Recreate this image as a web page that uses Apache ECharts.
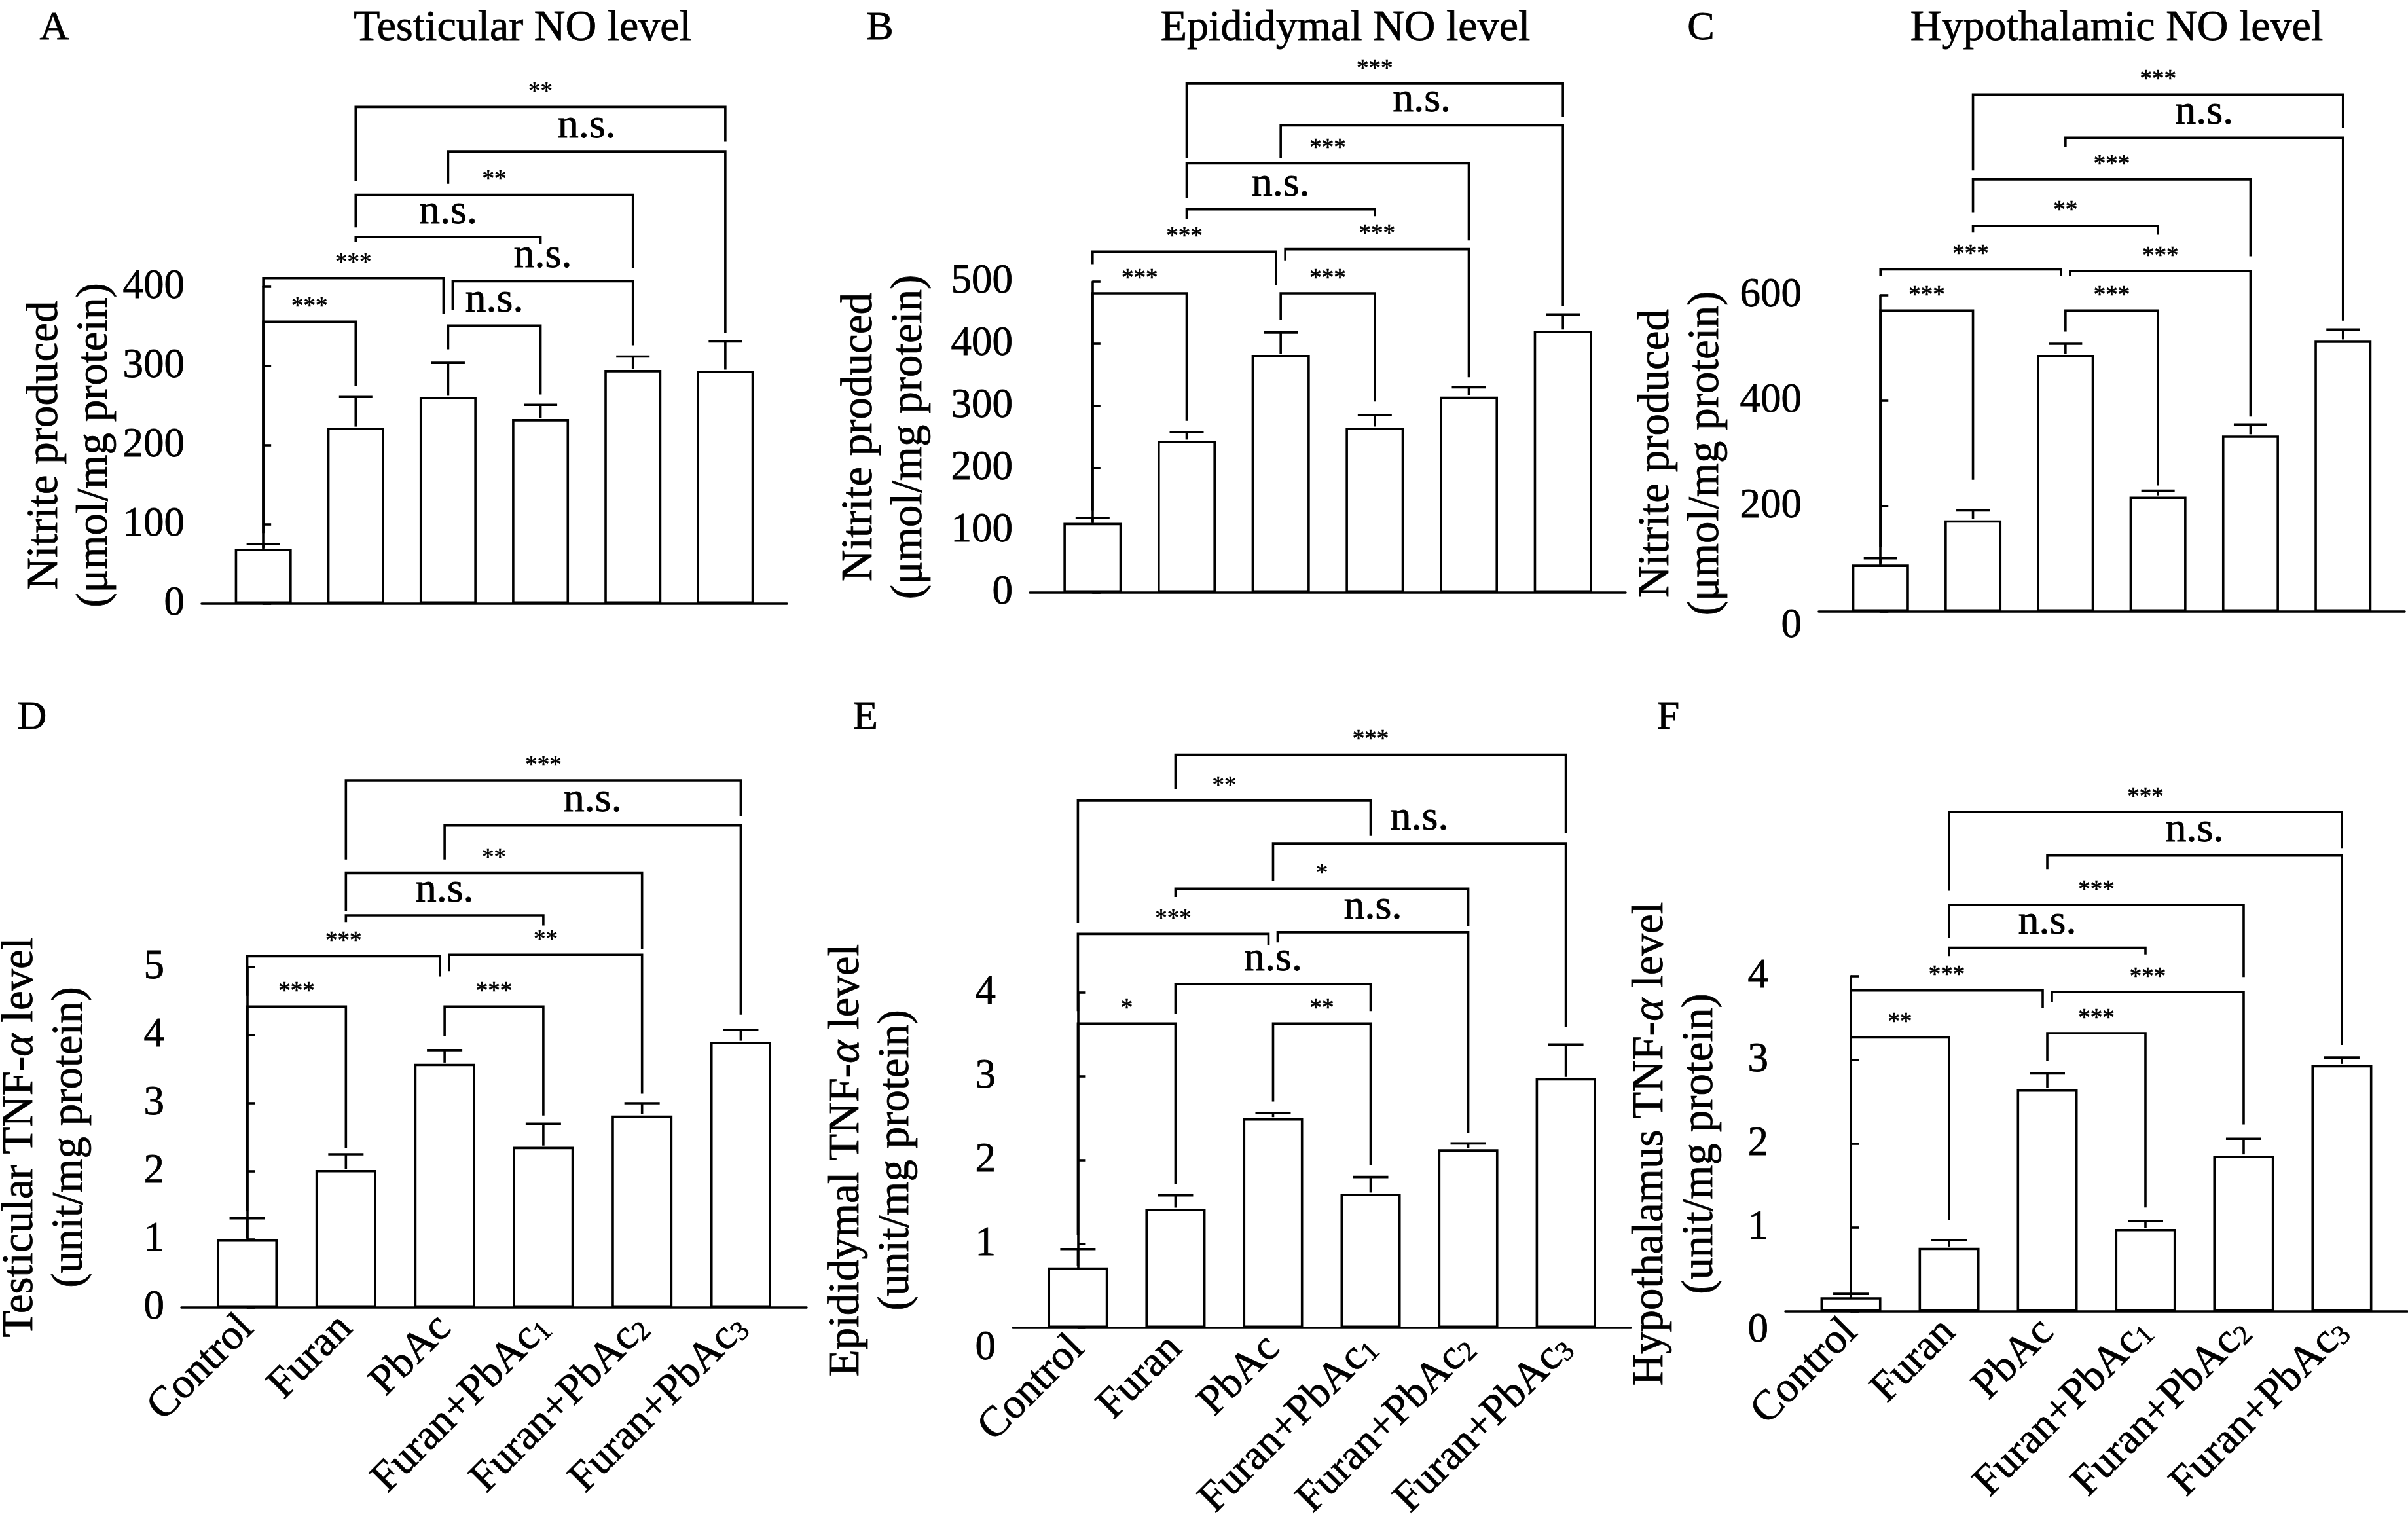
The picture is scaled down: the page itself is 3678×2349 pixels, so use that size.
<!DOCTYPE html>
<html><head><meta charset="utf-8">
<script src="https://cdn.jsdelivr.net/npm/echarts@6/dist/echarts.min.js"></script>
<style>html,body{margin:0;padding:0;background:#fff}#c{width:3678px;height:2349px}</style>
</head><body><div id="c"></div><script>
// ---------------- DATA ----------------
const categories = ['Control', 'Furan', 'PbAc', 'Furan+PbAc₁', 'Furan+PbAc₂', 'Furan+PbAc₃'];

// A: Testicular NO level (nitrite, µmol/mg protein)
const testNO_ticks = [0, 100, 200, 300, 400];
const testNO_mean  = [69, 222, 261, 233, 295, 294];
const testNO_upper = [75, 261, 304, 251, 312, 331];
// [group i, group j, bracket level, left drop end, right drop end]
const testNO_brackets = [[0,1,356,89,275],[0,2,411,400,366],[2,3,351,321,264],[2,4,407,371,326],[1,3,463,457,454],[1,4,516,475,424],[2,5,571,530,342],[1,5,627,533,583]];
const testNO_sig = ['***','***','n.s.','n.s.','n.s.','**','n.s.','**'];

// B: Epididymal NO level
const epiNO_ticks = [0, 100, 200, 300, 400, 500];
const epiNO_mean  = [112, 244, 382, 265, 315, 421];
const epiNO_upper = [120, 258, 418, 285, 330, 447];
const epiNO_brackets = [[0,1,481,132,276],[2,3,481,438,307],[0,2,548,528,494],[2,4,552,534,346],[1,3,616,601,605],[1,4,690,634,566],[2,5,751,699,461],[1,5,818,699,765]];
const epiNO_sig = ['***','***','***','***','n.s.','***','n.s.','***'];

// C: Hypothalamic NO level
const hypNO_ticks = [0, 200, 400, 600];
const hypNO_mean  = [89, 173, 487, 218, 334, 514];
const hypNO_upper = [101, 192, 508, 229, 355, 535];
const hypNO_brackets = [[0,1,571,123,250],[2,3,571,531,239],[0,2,649,636,636],[2,4,646,636,370],[1,3,732,719,715],[1,4,820,757,674],[2,5,899,882,552],[1,5,981,837,917]];
const hypNO_sig = ['***','***','***','***','**','***','n.s.','***'];

// D: Testicular TNF-α level (unit/mg protein)
const testTNF_ticks = [0, 1, 2, 3, 4, 5];
const testTNF_mean  = [1.00, 2.02, 3.58, 2.36, 2.82, 3.90];
const testTNF_upper = [1.31, 2.25, 3.78, 2.70, 3.00, 4.08];
const testTNF_brackets = [[0,1,4.42,1.42,2.34],[2,3,4.42,3.98,2.82],[0,2,5.16,4.58,4.86],[2,4,5.18,4.94,3.14],[1,3,5.76,5.66,5.61],[1,4,6.38,5.82,5.26],[2,5,7.08,6.58,4.30],[1,5,7.74,6.58,7.22]];
const testTNF_sig = ['***','***','***','**','n.s.','**','n.s.','***'];

// E: Epididymal TNF-α level
const epiTNF_ticks = [0, 1, 2, 3, 4];
const epiTNF_mean  = [0.72, 1.42, 2.50, 1.60, 2.13, 2.98];
const epiTNF_upper = [0.94, 1.58, 2.56, 1.80, 2.20, 3.38];
const epiTNF_brackets = [[0,1,3.63,1.11,1.71],[2,3,3.63,2.70,1.94],[1,3,4.10,3.75,3.78],[0,2,4.70,3.78,4.57],[2,4,4.72,4.60,2.32],[1,4,5.24,5.14,4.79],[2,5,5.78,5.33,3.59],[0,3,6.29,4.83,5.87],[1,5,6.84,6.43,5.90]];
const epiTNF_sig = ['*','**','n.s.','***','n.s.','*','n.s.','**','***'];

// F: Hypothalamus TNF-α level
const hypTNF_ticks = [0, 1, 2, 3, 4];
const hypTNF_mean  = [0.17, 0.76, 2.65, 0.985, 1.86, 2.94];
const hypTNF_upper = [0.21, 0.85, 2.84, 1.08, 2.06, 3.03];
const hypTNF_brackets = [[0,1,3.27,0.39,1.09],[2,3,3.32,2.99,1.24],[0,2,3.83,3.40,3.62],[2,4,3.81,3.69,2.23],[1,3,4.34,4.24,4.26],[1,4,4.85,4.46,3.99],[2,5,5.44,5.28,3.18],[1,5,5.96,5.02,5.53]];
const hypTNF_sig = ['**','***','***','***','n.s.','***','n.s.','***'];

// ---------------- LAYOUT / STYLE ----------------
const FONT = '"Liberation Serif","Times New Roman",Times,serif';
const LW = 3.6;
const TB = 0.8;              // thin text outline to match the print weight
const blk = '#000';
const NO_NAME = 'Nitrite produced\n(μmol/mg protein)';

const panels = [
  {letter:'A', title:'Testicular NO level', ticks:testNO_ticks, mean:testNO_mean, upper:testNO_upper, br:testNO_brackets, sig:testNO_sig,
   name:NO_NAME, g:[308,438,894,484], nameGap:122, zeroShift:0, bottom:false, letterPos:[83,44], titlePos:[798,44]},
  {letter:'B', title:'Epididymal NO level', ticks:epiNO_ticks, mean:epiNO_mean, upper:epiNO_upper, br:epiNO_brackets, sig:epiNO_sig,
   name:NO_NAME, g:[1573,430,910,475], nameGap:146, zeroShift:0, bottom:false, letterPos:[1344,44], titlePos:[2055,44]},
  {letter:'C', title:'Hypothalamic NO level', ticks:hypNO_ticks, mean:hypNO_mean, upper:hypNO_upper, br:hypNO_brackets, sig:hypNO_sig,
   name:NO_NAME, g:[2778,451,895,483], nameGap:134, zeroShift:22, bottom:false, letterPos:[2598,44], titlePos:[3233,44]},
  {letter:'D', title:'', ticks:testTNF_ticks, mean:testTNF_mean, upper:testTNF_upper, br:testTNF_brackets, sig:testTNF_sig,
   name:'Testicular TNF-α level\n(unit/mg protein)', g:[277,1477,955,520], nameGap:132, zeroShift:0, bottom:true, letterPos:[49,1097]},
  {letter:'E', title:'', ticks:epiTNF_ticks, mean:epiTNF_mean, upper:epiTNF_upper, br:epiTNF_brackets, sig:epiTNF_sig,
   name:'Epididymal TNF-α level\n(unit/mg protein)', g:[1547,1516,944,512], nameGap:140, zeroShift:31, bottom:true, letterPos:[1322,1097]},
  {letter:'F', title:'', ticks:hypTNF_ticks, mean:hypTNF_mean, upper:hypTNF_upper, br:hypTNF_brackets, sig:hypTNF_sig,
   name:'Hypothalamus TNF-α level\n(unit/mg protein)', g:[2727,1491,950,512], nameGap:92, zeroShift:29, bottom:true, letterPos:[2548,1097]}
];

function nameRich(s) {
  return s.split('\n').map(line => '{n|' + line.replace(/α/g, '}{i|α}{n|') + '}').join('\n').replace(/\{n\|\}/g, '');
}
const SUBS = '₀₁₂₃₄₅₆₇₈₉';
function catRich(s) {
  const m = s.match(/^(.*?)([₀-₉])$/);
  if (!m) return '{n|' + s + '}';
  return '{n|' + m[1] + '}{s|' + SUBS.indexOf(m[2]) + '}';
}
function rs(size, extra) {
  return Object.assign({fontFamily:FONT, fontSize:size, color:blk, textBorderColor:blk, textBorderWidth:TB}, extra || {});
}

const grids = [], xAxes = [], yAxes = [], series = [], graphics = [];

panels.forEach((p, k) => {
  const [gl, gt, gw, gh] = p.g;
  grids.push({left:gl, top:gt, width:gw, height:gh, containLabel:false, outerBoundsMode:'none'});
  const spacing = gw / 6.334;
  const barW = Math.round(0.643 * spacing - LW);
  const capW = Math.round(0.36 * spacing);
  const yMin = p.ticks[0], yMax = p.ticks[p.ticks.length - 1], yInt = p.ticks[1] - p.ticks[0];

  xAxes.push({
    gridIndex:k, type:'value', min:-0.667, max:5.667,
    splitLine:{show:false},
    axisLine:{show:true, onZero:false, lineStyle:{color:blk, width:LW}},
    axisTick:{show:true, customValues:[0,1,2,3,4,5], inside:true, length:12, lineStyle:{color:blk, width:LW}},
    axisLabel: p.bottom ? {
      show:true, customValues:[0,1,2,3,4,5], rotate:45, margin:22, color:blk,
      formatter: v => catRich(categories[Math.round(v)]),
      rich:{
        n: rs(65, {lineHeight:64}),
        s: rs(42, {lineHeight:8, verticalAlign:'bottom'})
      }
    } : {show:false}
  });

  yAxes.push({
    gridIndex:k, type:'value', min:yMin, max:yMax, interval:yInt,
    splitLine:{show:false},
    axisLine:{show:true, lineStyle:{color:blk, width:LW}},
    axisTick:{show:true, inside:true, length:12, lineStyle:{color:blk, width:LW}},
    axisLabel:{
      show:true, margin:26, color:blk, fontFamily:FONT, fontSize:63, textBorderColor:blk, textBorderWidth:TB,
      formatter: v => (v === 0 && p.zeroShift) ? '{z|0}' : String(v),
      rich:{z: rs(63, {padding:[p.zeroShift * 2, 0, 0, 0]})}
    },
    name: nameRich(p.name), nameLocation:'middle', nameRotate:90, nameGap:p.nameGap,
    nameTextStyle:{
      color:blk, fontFamily:FONT, fontSize:67, lineHeight:76, textBorderColor:blk, textBorderWidth:TB,
      rich:{
        n: rs(67, {lineHeight:76}),
        i: rs(67, {lineHeight:76, fontStyle:'italic'})
      }
    }
  });

  series.push({
    type:'bar', xAxisIndex:k, yAxisIndex:k, barWidth:barW, silent:true,
    data: p.mean.map((v, i) => [i, v]),
    itemStyle:{color:'#fff', borderColor:blk, borderWidth:LW}
  });

  series.push({
    type:'custom', xAxisIndex:k, yAxisIndex:k, silent:true, clip:false, z:3,
    data: p.mean.map((v, i) => [i, v, p.upper[i]]),
    encode:{x:0, y:[1,2]},
    renderItem:(params, api) => {
      const x = api.value(0), m = api.value(1), u = api.value(2);
      const p0 = api.coord([x, m]), p1 = api.coord([x, u]);
      return {type:'group', children:[
        {type:'line', shape:{x1:p0[0], y1:p0[1] - LW / 2, x2:p1[0], y2:p1[1]}, style:{stroke:blk, lineWidth:LW}},
        {type:'line', shape:{x1:p1[0] - capW / 2, y1:p1[1], x2:p1[0] + capW / 2, y2:p1[1]}, style:{stroke:blk, lineWidth:LW}}
      ]};
    }
  });

  const tol = 0.02 * yMax;
  series.push({
    type:'custom', xAxisIndex:k, yAxisIndex:k, silent:true, clip:false, z:4,
    data: p.br,
    encode:{x:[0,1], y:[2,3,4]},
    renderItem:(params, api) => {
      const i = api.value(0), j = api.value(1), lv = api.value(2), le = api.value(3), re = api.value(4);
      const idx = params.dataIndex;
      let xL = api.coord([i, lv])[0], xR = api.coord([j, lv])[0];
      const y = api.coord([i, lv])[1];
      const yL = api.coord([i, le])[1], yR = api.coord([j, re])[1];
      // small offset where two brackets meet at the same group and level
      if (p.br.some((b, q) => q !== idx && b[1] === i && Math.abs(b[2] - lv) < tol)) xL += 7;
      if (p.br.some((b, q) => q !== idx && b[0] === j && Math.abs(b[2] - lv) < tol)) xR -= 7;
      const txt = p.sig[idx];
      const isNS = txt === 'n.s.';
      return {type:'group', children:[
        {type:'polyline', shape:{points:[[xL, yL], [xL, y], [xR, y], [xR, yR]]},
         style:{stroke:blk, lineWidth:LW, fill:null, lineJoin:'miter'}},
        {type:'text', x:(xL + xR) / 2, y: y - (isNS ? 38 : 22),
         style:{text:txt, fill:blk, stroke:blk, lineWidth:isNS ? TB : 0.6, fontFamily:FONT, fontSize: isNS ? 64 : 37, align:'center', verticalAlign:'middle'}}
      ]};
    }
  });

  graphics.push({type:'text', x:p.letterPos[0], y:p.letterPos[1],
    style:{text:p.letter, fill:blk, stroke:blk, lineWidth:TB, fontFamily:FONT, fontSize:62, align:'center', verticalAlign:'middle'}});
  if (p.title) {
    graphics.push({type:'text', x:p.titlePos[0], y:p.titlePos[1],
      style:{text:p.title, fill:blk, stroke:blk, lineWidth:TB, fontFamily:FONT, fontSize:66, align:'center', verticalAlign:'middle'}});
  }
});

const chart = echarts.init(document.getElementById('c'), null, {renderer:'canvas'});
chart.setOption({
  backgroundColor:'#fff',
  animation:false,
  textStyle:{fontFamily:FONT, color:blk},
  grid:grids, xAxis:xAxes, yAxis:yAxes, series:series, graphic:graphics
});
</script></body></html>
